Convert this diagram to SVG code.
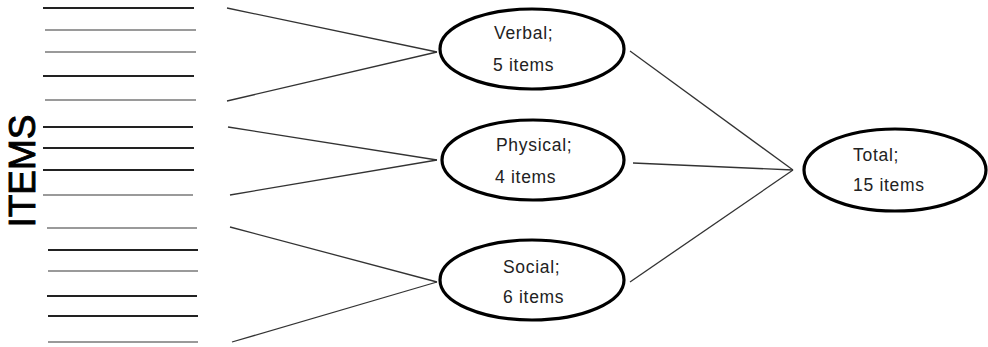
<svg xmlns="http://www.w3.org/2000/svg" width="988" height="347" viewBox="0 0 988 347">
<style>
.bg{fill:#fff}
.item{stroke-width:2.2}
.d{stroke:#222}
.g{stroke:#9a9a9a}
.conn line{stroke:#333;stroke-width:1.3}
.node ellipse{fill:#fff;stroke:#000;stroke-width:3.2}
.node text{font-family:"Liberation Sans",Arial,sans-serif;font-size:17.5px;fill:#222;letter-spacing:0.7px}
.title{font-family:"Liberation Sans",Arial,sans-serif;font-size:37px;fill:#000;stroke:#000;stroke-width:0.9}
</style>
<rect class="bg" width="988" height="347"/>
<g id="items">
<line class="item d" x1="43" y1="8" x2="194" y2="8"/>
<line class="item g" x1="45" y1="30" x2="196" y2="30"/>
<line class="item g" x1="45" y1="52" x2="196" y2="52"/>
<line class="item d" x1="43" y1="76" x2="194" y2="76"/>
<line class="item g" x1="45" y1="100" x2="196" y2="100"/>
<line class="item d" x1="43" y1="127" x2="193" y2="127"/>
<line class="item d" x1="43" y1="148" x2="194" y2="148"/>
<line class="item d" x1="43" y1="170" x2="194" y2="170"/>
<line class="item g" x1="43" y1="195" x2="193" y2="195"/>
<line class="item g" x1="47" y1="228" x2="197" y2="228"/>
<line class="item d" x1="48" y1="250" x2="198" y2="250"/>
<line class="item g" x1="48" y1="271" x2="198" y2="271"/>
<line class="item d" x1="47" y1="296" x2="197" y2="296"/>
<line class="item d" x1="48" y1="316" x2="198" y2="316"/>
<line class="item g" x1="48" y1="342" x2="198" y2="342"/>
<text class="title" transform="translate(35,171) rotate(-90)" text-anchor="middle">ITEMS</text>
</g>
<g class="conn" id="connectors">
<line x1="227" y1="8" x2="437" y2="52"/>
<line x1="227" y1="101" x2="437" y2="52"/>
<line x1="228" y1="127" x2="437" y2="160"/>
<line x1="230" y1="195" x2="437" y2="160"/>
<line x1="230" y1="227" x2="437" y2="282"/>
<line x1="232" y1="342" x2="437" y2="282"/>
<line x1="630" y1="51" x2="793" y2="170"/>
<line x1="633" y1="163" x2="793" y2="170"/>
<line x1="630" y1="282" x2="793" y2="170"/>
</g>
<g class="node" id="verbal">
<ellipse cx="532" cy="49" rx="92" ry="40"/>
<text x="494" y="39">Verbal;</text>
<text x="493" y="71">5 items</text>
</g>
<g class="node" id="physical">
<ellipse cx="533" cy="160" rx="91" ry="40"/>
<text x="496" y="151">Physical;</text>
<text x="495" y="183">4 items</text>
</g>
<g class="node" id="social">
<ellipse cx="532" cy="280" rx="92" ry="40"/>
<text x="503" y="273">Social;</text>
<text x="503" y="303">6 items</text>
</g>
<g class="node" id="total">
<ellipse cx="895" cy="170" rx="91" ry="41"/>
<text x="853" y="161">Total;</text>
<text x="853" y="191">15 items</text>
</g>
</svg>
